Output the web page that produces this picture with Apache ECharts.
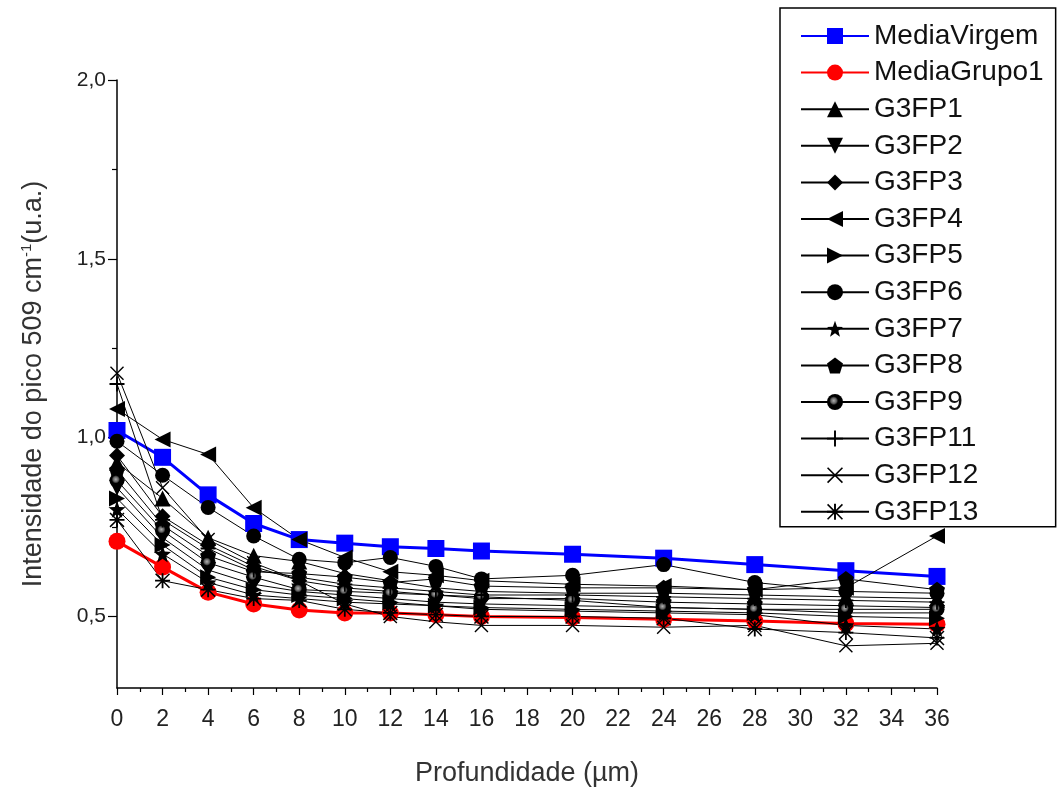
<!DOCTYPE html>
<html>
<head>
<meta charset="utf-8">
<script src="https://cdn.jsdelivr.net/npm/echarts@6/dist/echarts.min.js"></script>
<style>
  html, body { margin: 0; padding: 0; background: #fff; }
  #chart { width: 1060px; height: 790px; }
</style>
</head>
<body>
<div id="chart"></div>
<script>
// Depth positions (µm)
const depth = [0, 2, 4, 6, 8, 10, 12, 14, 16, 20, 24, 28, 32, 36];

// Peak intensity at 509 cm-1 per depth
const mediaVirgem  = [1.02, 0.945, 0.84, 0.76, 0.715, 0.705, 0.695, 0.69, 0.683, 0.674, 0.663, 0.645, 0.628, 0.612];
const mediaGrupo1  = [0.71, 0.638, 0.568, 0.535, 0.518, 0.51, 0.51, 0.505, 0.50, 0.497, 0.492, 0.487, 0.48, 0.478];
const g3fp1  = [0.93, 0.83, 0.72, 0.67, 0.654, 0.62, 0.60, 0.58, 0.57, 0.565, 0.565, 0.56, 0.555, 0.55];
const g3fp2  = [0.86, 0.72, 0.63, 0.59, 0.57, 0.56, 0.55, 0.54, 0.535, 0.53, 0.525, 0.52, 0.51, 0.51];
const g3fp3  = [0.95, 0.78, 0.70, 0.64, 0.60, 0.58, 0.57, 0.56, 0.55, 0.55, 0.54, 0.535, 0.53, 0.525];
const g3fp4  = [1.08, 0.995, 0.953, 0.804, 0.715, 0.665, 0.625, 0.615, 0.60, 0.59, 0.585, 0.575, 0.58, 0.725];
const g3fp5  = [0.83, 0.70, 0.61, 0.575, 0.56, 0.55, 0.54, 0.53, 0.525, 0.52, 0.515, 0.51, 0.50, 0.495];
const g3fp6  = [0.99, 0.895, 0.805, 0.725, 0.66, 0.65, 0.665, 0.64, 0.605, 0.615, 0.645, 0.595, 0.57, 0.565];
const g3fp7  = [0.80, 0.675, 0.595, 0.56, 0.55, 0.54, 0.535, 0.53, 0.52, 0.515, 0.51, 0.505, 0.475, 0.465];
const g3fp8  = [0.91, 0.755, 0.67, 0.625, 0.62, 0.61, 0.595, 0.605, 0.585, 0.58, 0.58, 0.575, 0.605, 0.575];
const g3fp9  = [0.88, 0.74, 0.65, 0.61, 0.575, 0.57, 0.565, 0.56, 0.555, 0.545, 0.525, 0.52, 0.52, 0.52];
const g3fp11 = [1.15, 0.77, 0.69, 0.63, 0.61, 0.59, 0.58, 0.57, 0.56, 0.56, 0.555, 0.55, 0.545, 0.54];
const g3fp12 = [1.18, 0.86, 0.715, 0.65, 0.60, 0.535, 0.50, 0.485, 0.475, 0.475, 0.47, 0.475, 0.418, 0.425];
const g3fp13 = [0.77, 0.60, 0.575, 0.55, 0.545, 0.52, 0.51, 0.505, 0.50, 0.50, 0.495, 0.465, 0.455, 0.44];

// Axis tick values
const yLabelValues = [0.5, 1.0, 1.5, 2.0];
const yMinorValues = [0.75, 1.25, 1.75];

const FONT = '"Liberation Sans", Arial, Helvetica, sans-serif';
const NARROW = '"Liberation Sans Narrow", "Arial Narrow", "Liberation Sans", Arial, sans-serif';

// Marker shapes
const STAR = 'path://M5,0 L6.234,3.301 L9.755,3.455 L6.997,5.649 L7.939,9.045 L5,7.1 L2.061,9.045 L3.003,5.649 L0.245,3.455 L3.766,3.301 Z';
const PENTAGON = 'path://M5,0 L9.755,3.455 L7.939,9.045 L2.061,9.045 L0.245,3.455 Z';
const PLUS = 'path://M4.4,0 H5.6 V4.4 H10 V5.6 H5.6 V10 H4.4 V5.6 H0 V4.4 H4.4 Z';
const CROSS = 'path://M0,0.7 L0.7,0 L10,9.3 L9.3,10 Z M0.7,10 L0,9.3 L9.3,0 L10,0.7 Z';
const ASTERISK = 'path://M0,0.7 L0.7,0 L10,9.3 L9.3,10 Z M0.7,10 L0,9.3 L9.3,0 L10,0.7 Z M4.4,0 H5.6 V10 H4.4 Z M0,4.4 H10 V5.6 H0 Z';

const pairs = vals => depth.map((d, i) => [d, vals[i]]);

function blackSeries(name, vals, symbol, size, rotate, fill) {
  return {
    name: name,
    type: 'line',
    data: pairs(vals),
    symbol: symbol,
    symbolSize: size,
    symbolRotate: rotate || 0,
    lineStyle: { color: '#000', width: 1 },
    itemStyle: { color: fill || '#000' },
    emphasis: { disabled: true }
  };
}

const shadedBall = {
  type: 'radial', x: 0.42, y: 0.42, r: 0.5,
  colorStops: [
    { offset: 0, color: '#b0b0b0' },
    { offset: 0.35, color: '#606060' },
    { offset: 0.55, color: '#000' },
    { offset: 1, color: '#000' }
  ]
};

const series = [
  {
    name: 'MediaVirgem', type: 'line', data: pairs(mediaVirgem),
    symbol: 'rect', symbolSize: 17,
    lineStyle: { color: '#0000ff', width: 3 },
    itemStyle: { color: '#0000ff' },
    emphasis: { disabled: true }
  },
  {
    name: 'MediaGrupo1', type: 'line', data: pairs(mediaGrupo1),
    symbol: 'circle', symbolSize: 17,
    lineStyle: { color: '#ff0000', width: 3 },
    itemStyle: { color: '#ff0000' },
    emphasis: { disabled: true }
  },
  blackSeries('G3FP1', g3fp1, 'triangle', 16, 0),
  blackSeries('G3FP2', g3fp2, 'triangle', 16, 180),
  blackSeries('G3FP3', g3fp3, 'diamond', 16, 0),
  blackSeries('G3FP4', g3fp4, 'triangle', 16, 90),
  blackSeries('G3FP5', g3fp5, 'triangle', 16, -90),
  blackSeries('G3FP6', g3fp6, 'circle', 15, 0),
  blackSeries('G3FP7', g3fp7, STAR, 17, 0),
  blackSeries('G3FP8', g3fp8, PENTAGON, 16, 0),
  blackSeries('G3FP9', g3fp9, 'circle', 15, 0, shadedBall),
  blackSeries('G3FP11', g3fp11, PLUS, 15, 0),
  blackSeries('G3FP12', g3fp12, CROSS, 14, 0),
  blackSeries('G3FP13', g3fp13, ASTERISK, 15, 0)
];

const chart = echarts.init(document.getElementById('chart'), null, { renderer: 'canvas' });

chart.setOption({
  animation: false,
  backgroundColor: '#fff',
  textStyle: { fontFamily: FONT },
  grid: { left: 117, right: 123, top: 80, bottom: 102, containLabel: false, outerBoundsMode: 'none' },
  legend: {
    orient: 'vertical',
    left: 780,
    top: 8,
    padding: [14, 12, 1, 20],
    itemWidth: 68,
    itemHeight: 20,
    itemGap: 8.6,
    borderColor: '#000',
    borderWidth: 1.5,
    backgroundColor: '#fff',
    selectedMode: false,
    textStyle: { fontSize: 28, color: '#111', fontFamily: FONT, lineHeight: 28 },
    data: series.map(s => s.name)
  },
  xAxis: {
    type: 'value',
    min: 0,
    max: 36,
    interval: 2,
    name: 'Profundidade (µm)',
    nameLocation: 'middle',
    nameGap: 72,
    nameTextStyle: { fontSize: 27, color: '#333', fontFamily: FONT },
    axisLine: { lineStyle: { color: '#000', width: 1.5 } },
    axisTick: { length: 7, lineStyle: { color: '#000', width: 1.2 } },
    minorTick: { show: true, splitNumber: 2, length: 4, lineStyle: { color: '#000', width: 1.2 } },
    axisLabel: { fontSize: 23, color: '#222', margin: 20, fontFamily: NARROW },
    splitLine: { show: false }
  },
  yAxis: [
    {
      type: 'value',
      min: 0.3,
      max: 2.0,
      name: '{a|Intensidade do pico 509 cm}{s|-1}{a|(u.a.)}',
      nameLocation: 'middle',
      nameRotate: 90,
      nameGap: 68,
      nameTextStyle: {
        color: '#333',
        fontFamily: FONT,
        rich: {
          a: { fontSize: 27, color: '#333', fontFamily: FONT, lineHeight: 30 },
          s: { fontSize: 15, color: '#333', fontFamily: FONT, lineHeight: 15, verticalAlign: 'top' }
        }
      },
      axisLine: { show: true, lineStyle: { color: '#000', width: 1.5 } },
      axisTick: { show: true, length: 9, customValues: yLabelValues, lineStyle: { color: '#000', width: 1.2 } },
      axisLabel: {
        customValues: yLabelValues,
        fontSize: 21, color: '#222', margin: 11, fontFamily: FONT,
        formatter: v => v.toFixed(1).replace('.', ',')
      },
      splitLine: { show: false }
    },
    {
      type: 'value',
      min: 0.3,
      max: 2.0,
      position: 'left',
      offset: 0,
      axisLine: { show: false },
      axisTick: { show: true, length: 5, customValues: yMinorValues, lineStyle: { color: '#000', width: 1.2 } },
      axisLabel: { show: false },
      splitLine: { show: false }
    }
  ],
  series: series
});
</script>
</body>
</html>
